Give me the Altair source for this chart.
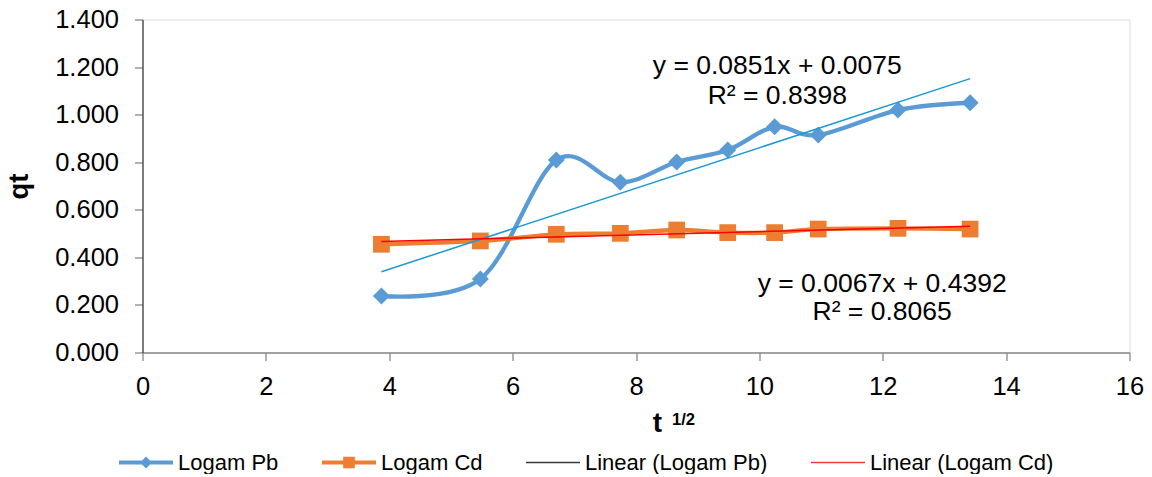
import altair as alt
import pandas as pd

# ---- data ----
t_sqrt = [3.873, 5.477, 6.708, 7.746, 8.660, 9.487, 10.247, 10.954, 12.247, 13.416]
qt_pb = [0.2375, 0.309, 0.809, 0.716, 0.801, 0.851, 0.949, 0.914, 1.019, 1.050]
qt_cd = [0.455, 0.469, 0.497, 0.501, 0.515, 0.504, 0.504, 0.519, 0.522, 0.519]

series_names = ["Logam Pb", "Logam Cd", "Linear (Logam Pb)", "Linear (Logam Cd)"]
legend_colors = ["#5B9BD5", "#ED7D31", "#3A3A3A", "#F23C3C"]

x_ticks = [0, 2, 4, 6, 8, 10, 12, 14, 16]
y_ticks = [0.0, 0.2, 0.4, 0.6, 0.8, 1.0, 1.2, 1.4]

eq_text = ["y = 0.0851x + 0.0075", "R² = 0.8398", "y = 0.0067x + 0.4392", "R² = 0.8065"]
eq_x = [10.29, 10.29, 11.99, 11.99]
eq_y = [1.2045, 1.078, 0.288, 0.170]

FONT = "Liberation Sans"
W, H = 987, 333

pb_df = pd.DataFrame({"t": t_sqrt, "q": qt_pb})
cd_df = pd.DataFrame({"t": t_sqrt, "q": qt_cd})
eq_df = pd.DataFrame({"text": eq_text, "x": eq_x, "y": eq_y})
legend_df = pd.DataFrame({"series": series_names})

x_enc = alt.X(
    "t:Q",
    scale=alt.Scale(domain=[0, 16], nice=False, zero=False),
    axis=alt.Axis(
        values=x_ticks, title=None, grid=False, format="d",
        domainColor="#898989", tickColor="#898989", domainWidth=1.3, tickWidth=1.3,
        tickSize=8, labelFontSize=25.5, labelFont=FONT, labelColor="black",
        labelPadding=14, labelFlush=False, labelOverlap=False,
    ),
)
y_enc = alt.Y(
    "q:Q",
    scale=alt.Scale(domain=[0, 1.4], nice=False),
    axis=alt.Axis(
        values=y_ticks, format=".3f", grid=False,
        title="qt", titleFont=FONT, titleFontSize=27.5, titleFontWeight="bold",
        titleColor="black", titleX=-115, titleBaseline="alphabetic",
        domainColor="#404040", tickColor="#898989", domainWidth=1.3, tickWidth=1.3,
        tickSize=8, labelFontSize=25.5, labelFont=FONT, labelColor="black",
        labelPadding=16, labelFlush=False, labelOverlap=False,
    ),
)

pb_line = alt.Chart(pb_df).mark_line(
    color="#5B9BD5", strokeWidth=4.3, interpolate="cardinal"
).encode(x=x_enc, y=y_enc)
pb_pts = alt.Chart(pb_df).mark_point(
    shape="diamond", filled=True, color="#5B9BD5", size=289, opacity=1
).encode(x="t:Q", y="q:Q")
cd_line = alt.Chart(cd_df).mark_line(
    color="#ED7D31", strokeWidth=4.3, interpolate="cardinal"
).encode(x="t:Q", y="q:Q")
cd_pts = alt.Chart(cd_df).mark_point(
    shape="square", filled=True, color="#ED7D31", size=280, opacity=1
).encode(x="t:Q", y="q:Q")

pb_trend = alt.Chart(pb_df).transform_regression("t", "q").mark_line(
    color="#1A9AD6", strokeWidth=1.5
).encode(x="t:Q", y="q:Q")
cd_trend = alt.Chart(cd_df).transform_regression("t", "q").mark_line(
    color="#FF0000", strokeWidth=1.5
).encode(x="t:Q", y="q:Q")

eq_layer = alt.Chart(eq_df).mark_text(
    font=FONT, fontSize=26.5, color="black", align="center", baseline="middle"
).encode(x="x:Q", y="y:Q", text="text:N")

# x-axis title "t" with superscript "1/2"
xt_main = alt.Chart(pd.DataFrame({"s": ["t"]})).mark_text(
    font=FONT, fontSize=28, fontWeight="bold", color="black",
    align="center", baseline="alphabetic"
).encode(text="s:N", x=alt.value(515), y=alt.value(412.5))
xt_sup = alt.Chart(pd.DataFrame({"s": ["1/2"]})).mark_text(
    font=FONT, fontSize=16.5, fontWeight="bold", color="black",
    align="left", baseline="alphabetic"
).encode(text="s:N", x=alt.value(529.5), y=alt.value(405.5))

# legend symbols: line + marker drawn as filled paths (unit coords, r = 27px)
sym_pb = "M-1,-0.074L1,-0.074L1,0.074L-1,0.074Z M0,-0.22L0.22,0L0,0.22L-0.22,0Z"
sym_cd = "M-1,-0.074L1,-0.074L1,0.074L-1,0.074Z M-0.215,-0.215L0.215,-0.215L0.215,0.215L-0.215,0.215Z"
sym_tr = "M-1,-0.026L1,-0.026L1,0.026L-1,0.026Z"

leg = alt.Legend(
    orient="none", legendX=-23.5, legendY=416, direction="horizontal", columns=4,
    title=None, symbolSize=2916, symbolStrokeWidth=0, symbolOpacity=1,
    labelFont=FONT, labelFontSize=22, labelColor="black", labelLimit=500,
    labelOffset=5, columnPadding=43, padding=0, symbolOffset=0,
)
legend_layer = alt.Chart(legend_df).mark_point(filled=True, opacity=0, size=1).encode(
    color=alt.Color("series:N", scale=alt.Scale(domain=series_names, range=legend_colors), legend=leg),
    shape=alt.Shape("series:N", scale=alt.Scale(domain=series_names, range=[sym_pb, sym_cd, sym_tr, sym_tr]), legend=leg),
)

chart = alt.layer(
    pb_line, pb_pts, cd_line, cd_pts, pb_trend, cd_trend, eq_layer, xt_main, xt_sup, legend_layer
).properties(
    width=W, height=H,
    autosize=alt.AutoSizeParams(type="none"),
    padding={"left": 134.5, "top": 11.5, "right": 14.5, "bottom": 121.5},
).configure_view(stroke=None).configure(background="white")

chart.save("out.html", embed_options={"renderer": "svg", "actions": False})
